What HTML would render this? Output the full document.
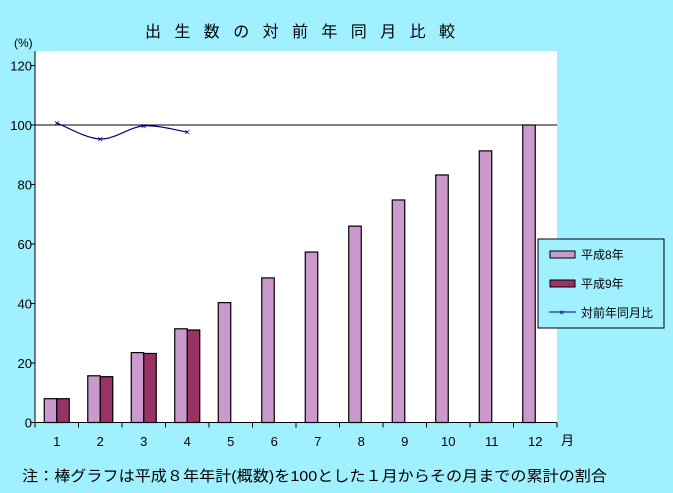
<!DOCTYPE html>
<html><head><meta charset="utf-8"><style>
body{margin:0;background:#a0f0ff;width:673px;height:493px;overflow:hidden;font-family:"Liberation Sans","Noto Sans CJK JP",sans-serif;}
svg{display:block}
</style></head><body>
<svg width="673" height="493" id="c" font-family="Liberation Sans, Noto Sans CJK JP, sans-serif">
<rect x="0" y="0" width="673" height="493" fill="#a0f0ff"/>
<text x="145" y="37" font-size="16" letter-spacing="13.4">出生数の対前年同月比較</text>
<text x="14" y="47" font-size="12">(%)</text>
<rect x="35" y="51" width="522" height="372" fill="#fff"/>
<g id="grid"></g>
<g id="bars"></g>
<g id="line"></g>
<g id="axes"></g>
<text x="561" y="445" font-size="13">月</text>
<g>
<rect x="538" y="239" width="126" height="89" fill="#a0f0ff" stroke="#000" stroke-width="1"/>
<rect x="550" y="251" width="25" height="7" fill="#cc99cc" stroke="#000"/>
<text x="581" y="259" font-size="12">平成8年</text>
<rect x="550" y="280" width="25" height="7" fill="#993366" stroke="#000"/>
<text x="581" y="288" font-size="12">平成9年</text>
<line x1="549" y1="312" x2="576" y2="312" stroke="#000080"/>
<text x="559" y="315.5" font-size="9" fill="#000080">×</text>
<text x="581" y="317" font-size="12">対前年同月比</text>
</g>
<text x="22" y="481" font-size="15" textLength="585" lengthAdjust="spacingAndGlyphs">注：棒グラフは平成８年年計(概数)を100とした１月からその月までの累計の割合</text>
</svg>
<script>
const months=["1","2","3","4","5","6","7","8","9","10","11","12"];
const h8=[8,15.7,23.5,31.5,40.3,48.6,57.3,66,74.8,83.2,91.3,100];
const h9=[8,15.4,23.2,31.1];
const ratio=[100.7,95.3,99.7,97.6];
const yTicks=[0,20,40,60,80,100,120];
const NS="http://www.w3.org/2000/svg";
const x0=35,x1=557,yB=422.5,perUnit=59.5/20;
const cw=(x1-x0)/months.length;
const y=v=>yB-v*perUnit;
const cx=i=>x0+cw*(i+0.5);
function mk(t,a,p){const e=document.createElementNS(NS,t);for(const k in a)e.setAttribute(k,a[k]);p.appendChild(e);return e;}
const g=document.getElementById('grid'),b=document.getElementById('bars'),l=document.getElementById('line'),ax=document.getElementById('axes');
const ref=mk('line',{x1:x0,x2:x1,y1:y(100),y2:y(100),stroke:'#000'},g);


const bw=12.5;
h8.forEach((v,i)=>{const r=mk('rect',{x:cx(i)-bw,y:y(v),width:bw,height:yB-y(v),fill:'#cc99cc',stroke:'#000','stroke-width':1.2},b);

});
h9.forEach((v,i)=>{const r=mk('rect',{x:cx(i),y:y(v),width:bw,height:yB-y(v),fill:'#993366',stroke:'#000','stroke-width':1.2},b);

});
const pts=ratio.map((v,i)=>[cx(i),y(v)]);
let d='M'+pts[0][0]+','+pts[0][1];
for(let i=0;i<pts.length-1;i++){const p0=pts[Math.max(i-1,0)],p1=pts[i],p2=pts[i+1],p3=pts[Math.min(i+2,pts.length-1)];
const c1=[p1[0]+(p2[0]-p0[0])/6,p1[1]+(p2[1]-p0[1])/6],c2=[p2[0]-(p3[0]-p1[0])/6,p2[1]-(p3[1]-p1[1])/6];
d+='C'+c1+' '+c2+' '+p2;}
const pl=mk('path',{d:d,fill:'none',stroke:'#000080','stroke-width':1.2},l);


ratio.forEach((v,i)=>{const t=mk('text',{x:cx(i),y:y(v)+3.5,'font-size':10,fill:'#000080','text-anchor':'middle'},l);t.textContent='×';

});
mk('line',{x1:x0,x2:x0,y1:51,y2:yB,stroke:'#000'},ax);
mk('line',{x1:x0,x2:x1,y1:yB,y2:yB,stroke:'#000'},ax);
yTicks.forEach(v=>{mk('line',{x1:x0-4,x2:x0,y1:y(v),y2:y(v),stroke:'#000'},ax);
const t=mk('text',{x:x0-3,y:y(v)+5,'font-size':13,'text-anchor':'end'},ax);t.textContent=v;

});
months.forEach((m,i)=>{mk('line',{x1:x0+cw*i,x2:x0+cw*i,y1:yB,y2:yB+5,stroke:'#000'},ax);
const t=mk('text',{x:cx(i),y:446,'font-size':13,'text-anchor':'middle'},ax);t.textContent=m;

});
mk('line',{x1:x1,x2:x1,y1:yB,y2:yB+5,stroke:'#000'},ax);
</script>
</body></html>
